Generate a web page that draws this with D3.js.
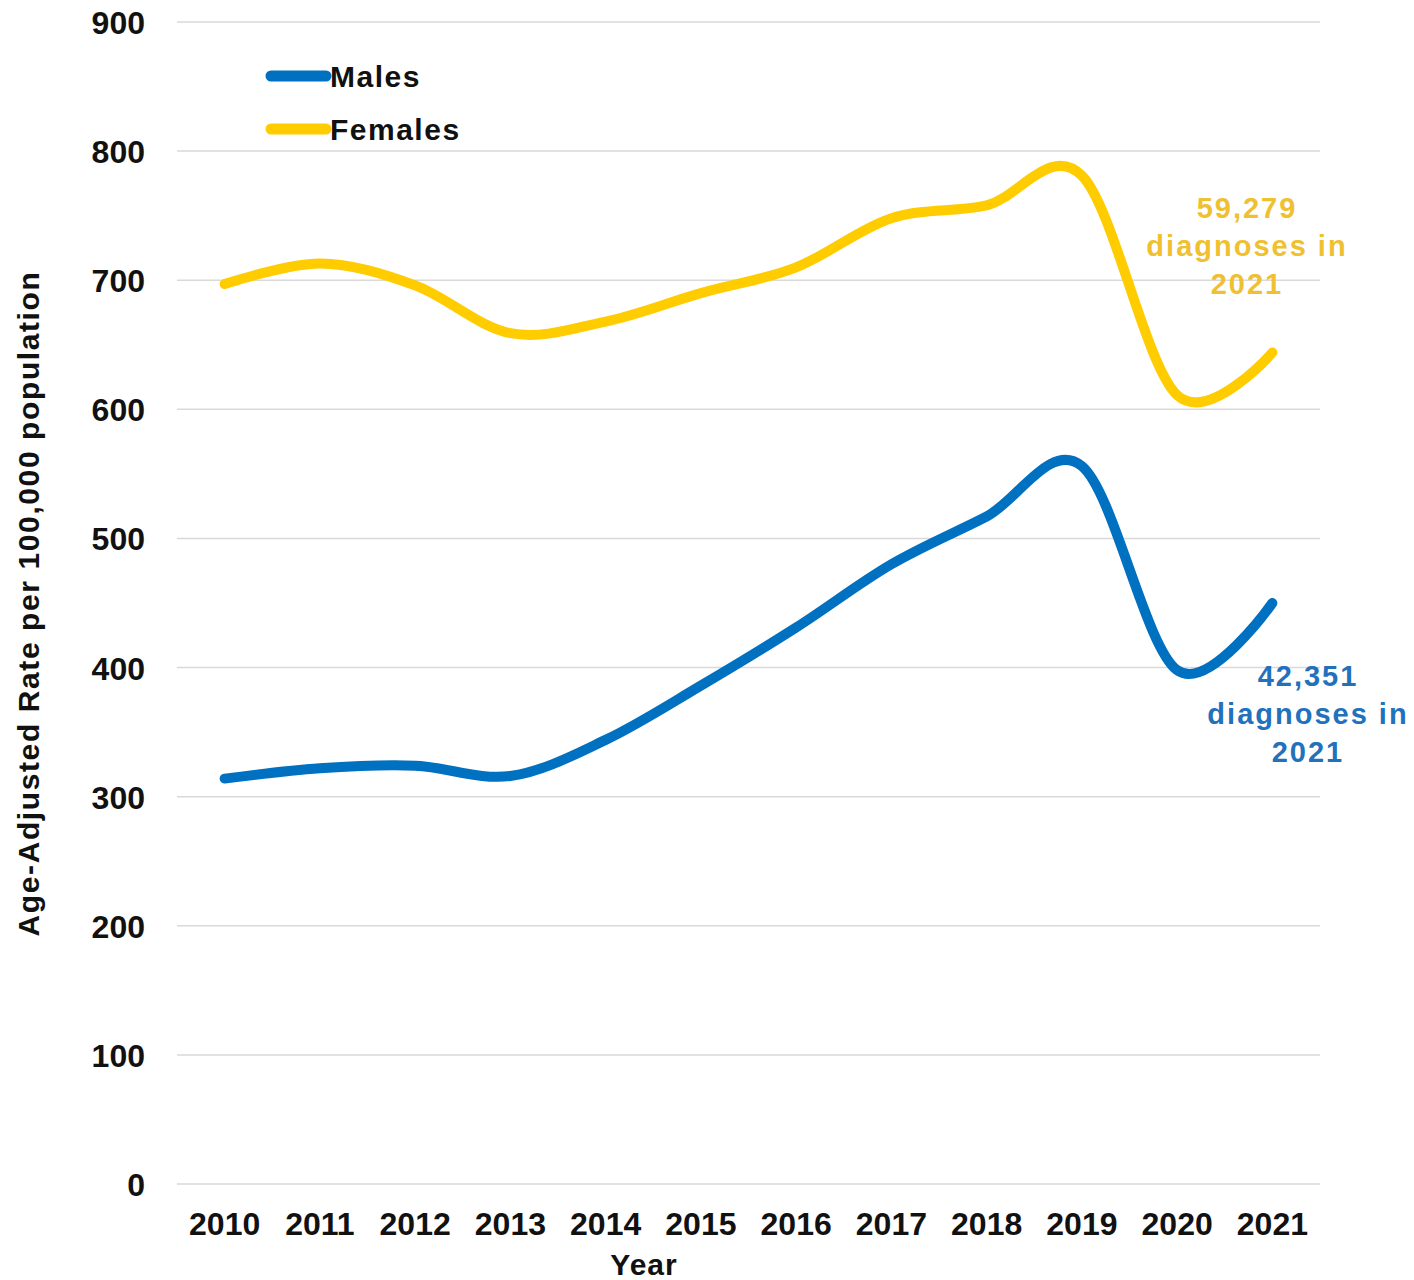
<!DOCTYPE html>
<html>
<head>
<meta charset="utf-8">
<script src="https://cdn.jsdelivr.net/npm/d3@7"></script>
<style>
  html, body { margin: 0; padding: 0; background: #fff; }
  svg { display: block; font-family: "Liberation Sans", Arial, sans-serif; }
</style>
</head>
<body>
<svg id="chart" width="1414" height="1280"></svg>
<script>
const years = ["2010","2011","2012","2013","2014","2015","2016","2017","2018","2019","2020","2021"];
const males = [314, 322, 324, 316, 344, 386, 431, 480, 517, 556, 398, 450];
const females = [697, 713, 696, 659, 668, 690, 710, 748, 758, 781, 611, 644];
const yTicks = [0, 100, 200, 300, 400, 500, 600, 700, 800, 900];
const seriesNames = ["Males", "Females"];
const annotations = [
  ["59,279", "diagnoses in", "2021"],
  ["42,351", "diagnoses in", "2021"]
];

(function () {
const colors = { Males: "#0070C0", Females: "#FFCC00" };
const textColors = { Males: "#2171BD", Females: "#EFC030" };

const svg = d3.select("#chart");
const pLeft = 177, pRight = 1320, pTop = 22, pBottom = 1184;

const x = d3.scaleBand().domain(years).range([pLeft, pRight]);
const y = d3.scaleLinear().domain([0, 900]).range([pBottom, pTop]);

// gridlines
svg.append("g").selectAll("line").data(yTicks).join("line")
  .attr("x1", pLeft).attr("x2", pRight)
  .attr("y1", d => y(d)).attr("y2", d => y(d))
  .attr("stroke", "#d9d9d9").attr("stroke-width", 1.5);

// y axis labels
const yAxis = svg.append("g").attr("transform", `translate(${pLeft - 32},0)`)
  .call(d3.axisLeft(y).tickValues(yTicks).tickSize(0).tickPadding(0));
yAxis.select(".domain").remove();
yAxis.selectAll("text")
  .attr("font-size", 32).attr("font-weight", "bold").attr("fill", "#111")
  .attr("font-family", "Liberation Sans, Arial, sans-serif")
  .attr("dy", "0.36em");

// x axis labels
const xAxis = svg.append("g").attr("transform", `translate(0,${pBottom})`)
  .call(d3.axisBottom(x).tickSize(0).tickPadding(0));
xAxis.select(".domain").remove();
xAxis.selectAll("text")
  .attr("font-size", 32).attr("font-weight", "bold").attr("fill", "#111")
  .attr("font-family", "Liberation Sans, Arial, sans-serif")
  .attr("y", 39).attr("dy", "0.36em");

// axis titles
svg.append("text")
  .attr("transform", `translate(28,${(272 + 935) / 2}) rotate(-90)`)
  .attr("text-anchor", "middle").attr("dy", "0.36em")
  .attr("font-size", 30).attr("font-weight", "bold").attr("fill", "#111")
  .attr("letter-spacing", 1.6)
  .text("Age-Adjusted Rate per 100,000 population");

svg.append("text")
  .attr("x", 644).attr("y", 1264).attr("dy", "0.36em")
  .attr("text-anchor", "middle")
  .attr("font-size", 30).attr("font-weight", "bold").attr("fill", "#111")
  .attr("letter-spacing", 1)
  .text("Year");

// lines
const line = d3.line()
  .x((d, i) => x(years[i]) + x.bandwidth() / 2)
  .y(d => y(d))
  .curve(d3.curveCatmullRom.alpha(0));

[["Females", females], ["Males", males]].forEach(([name, vals]) => {
  svg.append("path").datum(vals)
    .attr("d", line)
    .attr("fill", "none")
    .attr("stroke", colors[name])
    .attr("stroke-width", 10)
    .attr("stroke-linecap", "round")
    .attr("stroke-linejoin", "round");
});

// legend
const legend = svg.append("g");
seriesNames.forEach((name, i) => {
  const ly = 76 + i * 53;
  legend.append("line")
    .attr("x1", 271).attr("x2", 326).attr("y1", ly).attr("y2", ly)
    .attr("stroke", colors[name]).attr("stroke-width", 11)
    .attr("stroke-linecap", "round");
  legend.append("text")
    .attr("x", 330).attr("y", ly).attr("dy", "0.36em")
    .attr("font-size", 30).attr("font-weight", "bold").attr("fill", "#111")
    .attr("letter-spacing", 1.5)
    .text(name);
});

// annotations
const annoPos = [
  { name: "Females", cx: 1247, cy: 208 },
  { name: "Males", cx: 1308, cy: 676 }
];
annoPos.forEach((p, k) => {
  const t = svg.append("text")
    .attr("text-anchor", "middle")
    .attr("font-size", 29).attr("font-weight", "bold")
    .attr("letter-spacing", 2)
    .attr("fill", textColors[p.name]);
  annotations[k].forEach((s, j) => {
    t.append("tspan").attr("x", p.cx).attr("y", p.cy + j * 38).attr("dy", "0.36em").text(s);
  });
});
})();
</script>
</body>
</html>
